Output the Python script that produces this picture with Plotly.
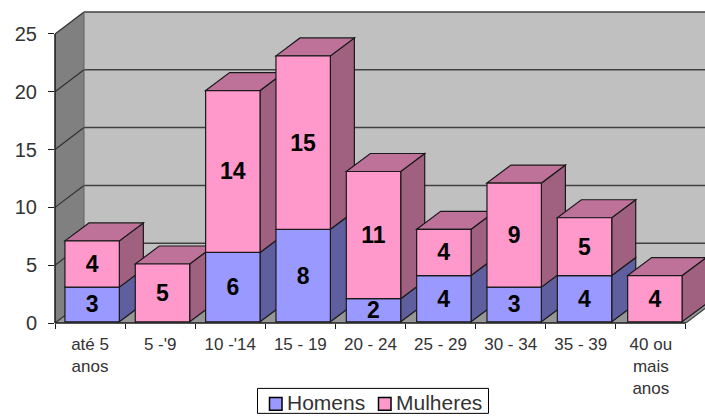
import plotly.graph_objects as go

categories = ["até 5<br>anos", "5 -'9", "10 -'14", "15 - 19", "20 - 24", "25 - 29", "30 - 34", "35 - 39", "40 ou<br>mais<br>anos"]
homens = [3, 0, 6, 8, 2, 4, 3, 4, 0]
mulheres = [4, 5, 14, 15, 11, 4, 9, 5, 4]
y_ticks = [0, 5, 10, 15, 20, 25]
series_names = ["Homens", "Mulheres"]

W, H = 705, 416
L, Y0 = 55, 323.5
PX_X = 70.1    # pixels per category
PX_Y = 11.58   # pixels per value unit
XMAX = (W - L) / PX_X
YMAX = Y0 / PX_Y
n = len(categories)

wall_dx, wall_dy = 29 / PX_X, 22 / PX_Y
bar_dx, bar_dy = 24 / PX_X, 18 / PX_Y
bar_w = 0.776
bar_shift = 0.53
bar_pitch = 70.34 / PX_X
base_shift = 1.2 / PX_Y

WALL, SIDEWALL, FLOOR = "#C0C0C0", "#808080", "#969696"
C_H, C_H_SIDE = "#9999FF", "#5F5FA0"
C_M, C_M_TOP, C_M_SIDE = "#FF99CC", "#BF7299", "#A06080"
EDGE = "#1a1a1a"
TXT = "#333333"

def poly(pts, fill, line=None, width=1.2):
    d = "M " + " L ".join(f"{x:.4f} {y:.4f}" for x, y in pts) + " Z"
    return dict(type="path", path=d, xref="x", yref="y", layer="between",
                fillcolor=fill, line=dict(color=line or fill, width=width if line else 0))

def seg(x0, y0, x1, y1, color="#404040", width=1.2, xref="x", yref="y", layer="between"):
    return dict(type="line", xref=xref, yref=yref, layer=layer, x0=x0, y0=y0, x1=x1, y1=y1,
                line=dict(color=color, width=width))

xs = [i * bar_pitch + bar_shift for i in range(n)]

shapes = []
# walls and floor
shapes.append(poly([(wall_dx, wall_dy), (XMAX + 1, wall_dy), (XMAX + 1, 25 + wall_dy), (wall_dx, 25 + wall_dy)], WALL))
shapes.append(poly([(0, 0), (wall_dx, wall_dy), (wall_dx, 25 + wall_dy), (0, 25)], SIDEWALL))
shapes.append(poly([(0, 0), (n, 0), (n + wall_dx, wall_dy), (wall_dx, wall_dy)], FLOOR))
for t in y_ticks:
    shapes.append(seg(wall_dx, t + wall_dy, XMAX + 1, t + wall_dy, "#404040", 1.5))
    shapes.append(seg(0, t, wall_dx, t + wall_dy, "#303030", 1.2))
shapes.append(seg(wall_dx, wall_dy, wall_dx, 25 + wall_dy, "#606060", 1))
shapes.append(seg(n, 0, n + wall_dx, wall_dy, "#404040", 1.2))

# bar sides and tops, left to right
for i in range(n):
    xr = xs[i] + bar_w / 2
    xl = xs[i] - bar_w / 2
    b0 = base_shift
    h, m = homens[i], mulheres[i]
    if h:
        shapes.append(poly([(xr, b0), (xr + bar_dx, b0 + bar_dy), (xr + bar_dx, b0 + h + bar_dy), (xr, b0 + h)], C_H_SIDE, EDGE))
    if m:
        shapes.append(poly([(xr, b0 + h), (xr + bar_dx, b0 + h + bar_dy), (xr + bar_dx, b0 + h + m + bar_dy), (xr, b0 + h + m)], C_M_SIDE, EDGE))
    top = b0 + h + m
    shapes.append(poly([(xl, top), (xl + bar_dx, top + bar_dy), (xr + bar_dx, top + bar_dy), (xr, top)], C_M_TOP, EDGE))

# axis lines that stop where the reference's stop
shapes.append(seg(0, 0, 0, 25, EDGE, 1.5, xref="paper", yref="y", layer="above"))
shapes.append(seg(0, 0, n, 0, EDGE, 1.5, xref="x", yref="paper", layer="above"))

# legend box, in page pixels converted to paper fractions
def px(x):
    return (x - L) / (W - L)
def py(y):
    return (Y0 - y) / Y0

def rect(x0, y0, x1, y1, fill, line, width):
    return dict(type="rect", xref="paper", yref="paper", layer="above",
                x0=px(x0), x1=px(x1), y0=py(y0), y1=py(y1), fillcolor=fill,
                line=dict(color=line, width=width))

shapes.append(rect(257.5, 389, 488.5, 414, "white", "#000000", 1))
shapes.append(rect(269.5, 398, 282, 411, C_H, "#000000", 1.5))
shapes.append(rect(378.5, 398, 391, 411, C_M, "#000000", 1.5))
annotations = [
    dict(text=series_names[0], xref="paper", yref="paper", x=px(285), y=py(403), xanchor="left", yanchor="middle",
         showarrow=False, font=dict(size=21, color=TXT)),
    dict(text=series_names[1], xref="paper", yref="paper", x=px(394), y=py(403), xanchor="left", yanchor="middle",
         showarrow=False, font=dict(size=21, color=TXT)),
]

LABEL_FONT = dict(family="Liberation Sans", size=23, color="#000000", weight="bold")
fig = go.Figure()
fig.add_bar(name=series_names[0], x=xs, y=[v if v else None for v in homens],
            base=[base_shift] * n, width=bar_w,
            marker=dict(color=C_H, line=dict(color=EDGE, width=1.2)),
            text=[str(v) if v else "" for v in homens], textposition="inside", textangle=0,
            insidetextanchor="middle", constraintext="none", textfont=LABEL_FONT,
            hoverinfo="skip", showlegend=False)
fig.add_bar(name=series_names[1], x=xs, y=mulheres,
            base=[base_shift + v for v in homens], width=bar_w,
            marker=dict(color=C_M, line=dict(color=EDGE, width=1.2)),
            text=[str(v) for v in mulheres], textposition="inside", textangle=0,
            insidetextanchor="middle", constraintext="none", textfont=LABEL_FONT,
            hoverinfo="skip", showlegend=False)

fig.update_layout(
    width=W, height=H, barmode="overlay", shapes=shapes, annotations=annotations,
    margin=dict(l=L, r=0, t=0, b=H - Y0, autoexpand=False),
    paper_bgcolor="white", plot_bgcolor="white", showlegend=False,
    font=dict(family="Liberation Sans", color=TXT),
    xaxis=dict(range=[0, XMAX], tickmode="array", tickvals=[i + 0.5 for i in range(n)],
               ticktext=categories, ticks="", showgrid=False, zeroline=False, showline=False,
               ticklabelstandoff=9, tickfont=dict(size=17, color=TXT),
               minor=dict(tickmode="array", tickvals=list(range(n + 1)), ticks="outside",
                          ticklen=5, tickcolor="#1a1a1a", tickwidth=1.2, showgrid=False)),
    yaxis=dict(range=[0, YMAX], tickmode="array", tickvals=y_ticks, ticks="outside",
               ticklen=6, tickcolor="#1a1a1a", tickwidth=1.2, showgrid=False, zeroline=False,
               showline=False, ticklabelstandoff=7, tickfont=dict(size=20, color=TXT)),
)
fig.write_html("out.html", config=dict(displayModeBar=False),
               post_script="document.body.style.margin='0';")
